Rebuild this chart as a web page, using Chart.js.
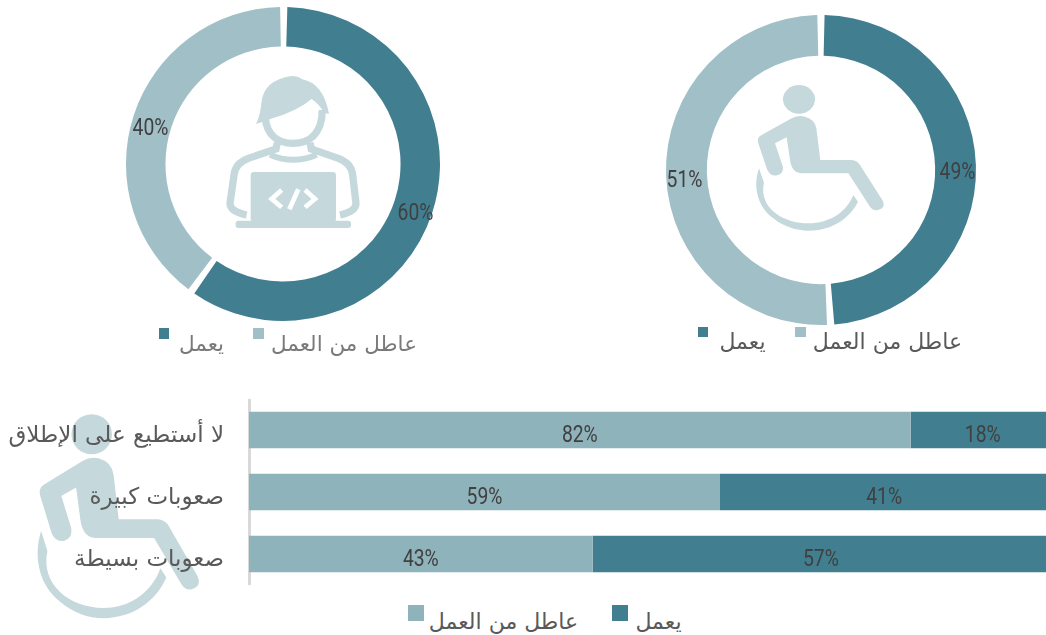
<!DOCTYPE html>
<html lang="ar">
<head>
<meta charset="utf-8">
<script src="https://cdn.jsdelivr.net/npm/chart.js@4"></script>
<style>
html,body{margin:0;padding:0;background:#fff;}
#stage{position:relative;width:1046px;height:635px;overflow:hidden;font-family:"DejaVu Sans",sans-serif;}
#icons{position:absolute;left:0;top:0;}
canvas{position:absolute;}
.sw{position:absolute;}
.lt{position:absolute;direction:rtl;white-space:nowrap;text-align:center;transform:translate(-50%,-50%);}
</style>
</head>
<body>
<div id="stage">
<svg id="icons" width="1046" height="635" viewBox="0 0 1046 635">
  <defs>
    <g id="wheel" fill="#C5D9DD">
      <ellipse cx="447" cy="298" rx="48" ry="43"/>
      <path d="M425 355 Q445 345 465 350 Q495 358 499 385 L511 480 L605 480 Q622 482 630 495 L697 600 Q708 620 690 628 Q672 636 660 620 L595 520 L455 520 Q425 518 420 480 L410 412 L375 430 L398 498 Q403 520 382 526 Q362 530 352 510 L325 430 Q320 412 335 405 Z"/>
      <path d="M327 505 C308 560 322 620 370 655 C400 680 440 692 475 692 C545 692 600 655 624 605 L610 585 C590 635 540 670 475 670 C395 670 325 620 342 548 Z"/>
    </g>
  </defs>
  <use href="#wheel" transform="translate(650,0) scale(.33333)"/>
  <use href="#wheel" transform="translate(-96.8,295.2) scale(.4217,.4667)"/>
  <g transform="translate(120,0) scale(.33333)">
    <path fill="#C5D9DD" d="M408 372 Q420 350 424 310 Q430 240 515 228 Q535 228 547 238 Q610 250 627 342 L612 338 Q600 315 575 297 Q530 335 448 358 L445 360 Z"/>
    <g fill="none" stroke="#C5D9DD" stroke-width="22">
      <path d="M436 350 C438 410 480 430 518 430 C565 430 606 405 607 330"/>
      <path d="M472 428 L468 447 L385 475 Q345 490 342 525 L330 610 Q330 635 380 645"/>
      <path d="M570 428 L574 447 L655 475 Q695 490 698 525 L708 610 Q708 635 660 645"/>
      <path stroke-width="18" d="M450 464 Q520 495 590 464"/>
    </g>
    <rect x="392" y="516" width="256" height="150" rx="10" fill="#C5D9DD"/>
    <rect x="347" y="662" width="346" height="22" rx="8" fill="#C5D9DD"/>
    <g fill="none" stroke="#fff" stroke-width="14">
      <path d="M485 570 L455 597 L485 622"/>
      <path d="M535 568 L508 628"/>
      <path d="M555 570 L585 597 L555 622"/>
    </g>
  </g>
</svg>
<canvas id="d1" width="330" height="330" style="left:118px;top:-1.5px;width:330px;height:330px"></canvas>
<canvas id="d2" width="330" height="330" style="left:655.5px;top:4.5px;width:330px;height:330px"></canvas>
<canvas id="bars" width="1046" height="186" style="left:0;top:398.5px;width:1046px;height:186px"></canvas>
</div>
<script>
const seriesWorking = 'يعمل';
const seriesIdle = 'عاطل من العمل';
const donutLabels = [seriesWorking, seriesIdle];
const donutOneValues = [60, 40];
const donutTwoValues = [49, 51];
const barCategories = ['لا أستطيع على الإطلاق', 'صعوبات كبيرة', 'صعوبات بسيطة'];
const barIdleValues = [82.6, 58.8, 42.9];
const barWorkingValues = [18, 41, 57];
const barIdleLabels = ['82%', '59%', '43%'];
const barWorkingLabels = ['18%', '41%', '57%'];

const DARK = '#417F90', LIGHT = '#A0BFC7', BAR_LIGHT = '#8FB3BB', TXT = '#404040';
const PCT_FONT = '23px Roboto,sans-serif';

function pctText(ctx, text, x, y) {
  ctx.save();
  ctx.font = PCT_FONT; ctx.fillStyle = TXT; ctx.textAlign = 'center'; ctx.textBaseline = 'middle';
  ctx.translate(x, y);
  ctx.scale(0.84, 1);
  ctx.fillText(text, 0, 0);
  ctx.restore();
}
const donutText = {
  id: 'donutText',
  afterDatasetsDraw(chart) {
    const vals = chart.data.datasets[0].data;
    chart.getDatasetMeta(0).data.forEach((arc, i) => {
      const p = arc.tooltipPosition();
      pctText(chart.ctx, vals[i] + '%', arc.x + (p.x - arc.x) * 1.015, p.y + 7.5);
    });
  }
};
const barText = {
  id: 'barText',
  afterDraw(chart) {
    [barIdleLabels, barWorkingLabels].forEach((labels, d) => {
      chart.getDatasetMeta(d).data.forEach((bar, i) => {
        pctText(chart.ctx, labels[i], (bar.base + bar.x) / 2, bar.y + 6.5);
      });
    });
  }
};

function donut(id, values, outer, inner) {
  return new Chart(document.getElementById(id), {
    type: 'doughnut',
    data: { labels: donutLabels, datasets: [{ data: values, backgroundColor: [DARK, LIGHT], borderWidth: 0, spacing: 4 }] },
    options: {
      responsive: false, animation: false, radius: outer, cutout: inner,
      layout: { padding: 0 },
      plugins: { legend: { display: false }, tooltip: { enabled: false } }
    },
    plugins: [donutText]
  });
}
donut('d1', donutOneValues, 155, 121.5);
donut('d2', donutTwoValues, 153, 119.5);

new Chart(document.getElementById('bars'), {
  type: 'bar',
  data: {
    labels: barCategories,
    datasets: [
      { label: seriesIdle, data: barIdleValues, backgroundColor: BAR_LIGHT, barPercentage: 0.585, categoryPercentage: 1 },
      { label: seriesWorking, data: barWorkingValues, backgroundColor: DARK, barPercentage: 0.585, categoryPercentage: 1 }
    ]
  },
  options: {
    indexAxis: 'y', responsive: false, animation: false,
    layout: { padding: 0 },
    plugins: { legend: { display: false }, tooltip: { enabled: false } },
    scales: {
      x: { stacked: true, min: 0, max: 99.5, display: false },
      y: {
        stacked: true,
        afterFit(s) { s.width = 249; s.paddingTop = 0; s.paddingBottom = 0; },
        grid: { display: false, drawTicks: false },
        border: { display: true, color: '#D9D9D9', width: 3 },
        ticks: { color: '#595959', padding: 25, labelOffset: 6, font: { family: '"DejaVu Sans"', size: 23 } }
      }
    }
  },
  plugins: [barText]
});

const legendSwatches = [
  [158.5, 328, 10.5, DARK], [253, 328, 10.5, LIGHT],
  [697.5, 326.5, 10.5, DARK], [795, 326.5, 10.5, LIGHT],
  [408, 605, 16, BAR_LIGHT], [612, 605, 16, DARK]
];
const legendTexts = [
  [201.5, 343, seriesWorking, '#7a7a7a', 21.5], [344, 343, seriesIdle, '#7a7a7a', 21.5],
  [742.5, 341, seriesWorking, '#595959', 22], [887.5, 341, seriesIdle, '#595959', 22],
  [503.5, 621, seriesIdle, '#595959', 22], [658.5, 621, seriesWorking, '#595959', 22]
];
const stage = document.getElementById('stage');
legendSwatches.forEach(([x, y, s, c]) => {
  const e = document.createElement('div');
  e.className = 'sw';
  e.style.cssText = `left:${x}px;top:${y}px;width:${s}px;height:${s}px;background:${c}`;
  stage.appendChild(e);
});
legendTexts.forEach(([x, y, t, c, f]) => {
  const e = document.createElement('div');
  e.className = 'lt';
  e.textContent = t;
  e.style.cssText = `left:${x}px;top:${y}px;font-size:${f}px;color:${c}`;
  stage.appendChild(e);
});
</script>
</body>
</html>
